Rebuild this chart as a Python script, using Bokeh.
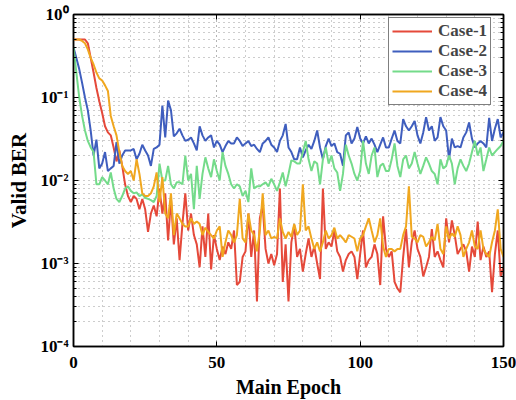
from bokeh.plotting import figure
from bokeh.models import (Range1d, FixedTicker, CustomJSTickFormatter, LogAxis, LinearAxis,
                          Legend, LegendItem)
from bokeh.embed import file_html
from bokeh.resources import INLINE

epochs = list(range(0, 151))

case1 = [0.5, 0.5, 0.5, 0.5, 0.5, 0.45, 0.3, 0.2, 0.13, 0.09,
         0.065, 0.045, 0.038, 0.035, 0.025, 0.017, 0.023, 0.015, 0.009, 0.0065,
         0.0055, 0.0065, 0.006, 0.0045, 0.006, 0.0045, 0.0024, 0.004, 0.005, 0.0037,
         0.008, 0.004, 0.007, 0.0019, 0.006, 0.0017, 0.0035, 0.0011, 0.003, 0.007,
         0.0025, 0.004, 0.0022, 0.0017, 0.0009, 0.0028, 0.0012, 0.004, 0.00085, 0.0022,
         0.0015, 0.0011, 0.0016, 0.0013, 0.0018, 0.0015, 0.0025, 0.00055, 0.0006, 0.0012,
         0.0014, 0.004, 0.0012, 0.0025, 0.00035, 0.0035, 0.005, 0.0015, 0.001, 0.0013,
         0.00095, 0.0013, 0.008, 0.0006, 0.0017, 0.00035, 0.0018, 0.0029, 0.0012, 0.0015,
         0.0008, 0.0013, 0.002, 0.0012, 0.0016, 0.001, 0.00065, 0.008, 0.0015, 0.0018,
         0.0016, 0.0025, 0.0014, 0.0012, 0.0008, 0.0011, 0.0013, 0.0014, 0.0012, 0.00065,
         0.0013, 0.0025, 0.0009, 0.0011, 0.0012, 0.0017, 0.0013, 0.00055, 0.0037, 0.0015,
         0.0012, 0.0014, 0.0006, 0.0005, 0.00045, 0.0012, 0.0026, 0.0009, 0.0018, 0.0025,
         0.0015, 0.0012, 0.0007, 0.0009, 0.0012, 0.0026, 0.0012, 0.0014, 0.0011, 0.0009,
         0.0035, 0.0018, 0.0033, 0.0022, 0.0013, 0.0015, 0.0017, 0.0014, 0.0008, 0.0016,
         0.0012, 0.0032, 0.0011, 0.0016, 0.0012, 0.0014, 0.00045, 0.0013, 0.0025, 0.0007, 0.0009]

case2 = [0.4, 0.3, 0.22, 0.15, 0.1, 0.07, 0.04, 0.02, 0.031, 0.014,
         0.016, 0.022, 0.013, 0.014, 0.015, 0.029, 0.016, 0.02, 0.023, 0.023,
         0.023, 0.024, 0.018, 0.021, 0.027, 0.023, 0.02, 0.015, 0.024, 0.025,
         0.027, 0.08, 0.033, 0.092, 0.07, 0.034, 0.037, 0.042, 0.035, 0.03,
         0.031, 0.033, 0.028, 0.023, 0.045, 0.035, 0.03, 0.033, 0.035, 0.025,
         0.03, 0.027, 0.022, 0.026, 0.03, 0.028, 0.028, 0.033, 0.03, 0.026,
         0.028, 0.03, 0.026, 0.027, 0.024, 0.022, 0.028, 0.03, 0.033, 0.027,
         0.025, 0.022, 0.03, 0.035, 0.048, 0.025, 0.022, 0.018, 0.018, 0.025,
         0.019, 0.023, 0.027, 0.024, 0.03, 0.04, 0.025, 0.018, 0.026, 0.032,
         0.026, 0.028, 0.022, 0.021, 0.015, 0.035, 0.038, 0.028, 0.032, 0.044,
         0.032, 0.028, 0.034, 0.028, 0.032, 0.027, 0.022, 0.027, 0.033, 0.025,
         0.025, 0.032, 0.04, 0.03, 0.028, 0.055, 0.045, 0.04, 0.045, 0.052,
         0.035, 0.028, 0.038, 0.058, 0.04, 0.045, 0.03, 0.033, 0.058, 0.045,
         0.04, 0.018, 0.032, 0.025, 0.026, 0.025, 0.033, 0.038, 0.05, 0.032,
         0.025, 0.028, 0.03, 0.028, 0.025, 0.057, 0.03, 0.042, 0.055, 0.033, 0.038]

case3 = [0.4, 0.2, 0.1, 0.06, 0.04, 0.03, 0.025, 0.022, 0.009, 0.009,
         0.011, 0.01, 0.009, 0.0125, 0.008, 0.006, 0.0055, 0.0065, 0.008, 0.0085,
         0.0075, 0.007, 0.0072, 0.0065, 0.0068, 0.0062, 0.006, 0.0058, 0.0055, 0.0065,
         0.016, 0.01, 0.01, 0.015, 0.009, 0.008, 0.0095, 0.0095, 0.009, 0.02,
         0.01, 0.012, 0.0045, 0.015, 0.006, 0.012, 0.019, 0.014, 0.011, 0.018,
         0.013, 0.01, 0.022, 0.015, 0.012, 0.009, 0.008, 0.009, 0.0085, 0.0065,
         0.0075, 0.0055, 0.014, 0.008, 0.0085, 0.0085, 0.009, 0.0095, 0.0085, 0.0105,
         0.009, 0.0075, 0.0095, 0.0125, 0.0085, 0.012, 0.0175, 0.017, 0.016, 0.016,
         0.022, 0.03, 0.018, 0.013, 0.017, 0.016, 0.009, 0.018, 0.025, 0.016,
         0.02, 0.014, 0.0125, 0.0075, 0.012, 0.027, 0.02, 0.016, 0.012, 0.01,
         0.013, 0.03, 0.016, 0.012, 0.02, 0.025, 0.011, 0.015, 0.016, 0.013,
         0.013, 0.018, 0.028, 0.015, 0.011, 0.018, 0.02, 0.014, 0.016, 0.022,
         0.016, 0.012, 0.015, 0.019, 0.016, 0.013, 0.012, 0.009, 0.018, 0.014,
         0.015, 0.02, 0.016, 0.009, 0.014, 0.018, 0.015, 0.013, 0.016, 0.022,
         0.03, 0.02, 0.025, 0.013, 0.018, 0.025, 0.02, 0.022, 0.024, 0.026, 0.03]

case4 = [0.5, 0.5, 0.5, 0.48, 0.45, 0.38, 0.3, 0.25, 0.2, 0.17,
         0.16, 0.14, 0.12, 0.06, 0.045, 0.035, 0.022, 0.015, 0.013, 0.012,
         0.013, 0.01, 0.018, 0.012, 0.007, 0.0065, 0.0065, 0.007, 0.0085, 0.0125,
         0.0055, 0.011, 0.004, 0.0035, 0.007, 0.0022, 0.004, 0.0035, 0.003, 0.0028,
         0.0028, 0.0035, 0.003, 0.0032, 0.003, 0.0022, 0.0027, 0.0024, 0.0022, 0.002,
         0.0025, 0.0028, 0.0012, 0.0018, 0.0025, 0.0022, 0.0018, 0.0022, 0.006, 0.002,
         0.0018, 0.004, 0.0025, 0.0022, 0.0014, 0.0025, 0.007, 0.0022, 0.0025, 0.002,
         0.0021, 0.002, 0.0035, 0.0024, 0.002, 0.0024, 0.0021, 0.003, 0.0022, 0.0025,
         0.009, 0.0025, 0.0028, 0.002, 0.0015, 0.0018, 0.0014, 0.0018, 0.0025, 0.002,
         0.0022, 0.0027, 0.002, 0.0022, 0.002, 0.0018, 0.0022, 0.0021, 0.002, 0.0014,
         0.002, 0.0022, 0.0028, 0.0035, 0.0025, 0.0018, 0.0022, 0.0035, 0.0016, 0.0012,
         0.0015, 0.0015, 0.0014, 0.0015, 0.0015, 0.0022, 0.0028, 0.0085, 0.0021, 0.002,
         0.0018, 0.0022, 0.0021, 0.0016, 0.0018, 0.0021, 0.0019, 0.003, 0.0015, 0.0013,
         0.0028, 0.002, 0.0023, 0.0021, 0.0028, 0.0022, 0.0012, 0.0015, 0.0018, 0.0025,
         0.0016, 0.0015, 0.0025, 0.0015, 0.0013, 0.0012, 0.0018, 0.0025, 0.0045, 0.0015, 0.0012]

series_names = ["Case-1", "Case-2", "Case-3", "Case-4"]
series_colors = ["#E5493A", "#3F5EBE", "#74DB8A", "#F0A71F"]
x_ticks = [0, 50, 100, 150]
y_ticks = [1e-4, 1e-3, 1e-2, 1e-1, 1e0]

FONT = "Liberation Serif"

p = figure(width=516, height=400, x_range=Range1d(0, 150), y_range=Range1d(1e-4, 1),
           y_axis_type="log", output_backend="svg", toolbar_location=None,
           min_border_left=73, min_border_right=13, min_border_top=14, min_border_bottom=54)

p.background_fill_color = "white"
p.outline_line_color = "black"
p.outline_line_width = 1.5

renderers = []
for name, ys, col in zip(series_names, [case1, case2, case3, case4], series_colors):
    r = p.line(epochs, ys, line_color=col, line_width=2)
    renderers.append((name, r))

minor_y = [m * d for d in y_ticks[:-1] for m in range(2, 10)]
x_minor = list(range(0, 151, 10))

sup = CustomJSTickFormatter(code="""
const m = {'-':'\u207B','0':'\u2070','1':'\u00B9','2':'\u00B2','3':'\u00B3','4':'\u2074','5':'\u2075','6':'\u2076','7':'\u2077','8':'\u2078','9':'\u2079'};
const e = String(Math.round(Math.log10(tick)));
let s = '';
for (const c of e) { s += m[c]; }
return '10' + s;
""")

yax = p.yaxis[0]
yax.ticker = FixedTicker(ticks=y_ticks, minor_ticks=minor_y)
yax.formatter = sup
xax = p.xaxis[0]
xax.ticker = FixedTicker(ticks=x_ticks, minor_ticks=x_minor)

for ax in [xax, yax]:
    ax.major_tick_in = 5
    ax.major_tick_out = 0
    ax.minor_tick_in = 3
    ax.minor_tick_out = 0
    ax.axis_line_width = 1.5
    ax.axis_line_color = "black"
    ax.major_tick_line_color = "black"
    ax.minor_tick_line_color = "black"
    ax.major_label_text_font = FONT
    ax.major_label_text_font_style = "bold"
    ax.major_label_text_font_size = "17px"
    ax.major_label_text_color = "black"
    ax.axis_label_text_font = FONT
    ax.axis_label_text_font_style = "bold"
    ax.axis_label_text_font_size = "20px"
    ax.axis_label_text_color = "black"

xax.minor_tick_line_color = None
xax.axis_label = "Main Epoch"
xax.major_label_standoff = 10
xax.axis_label_standoff = 5
yax.axis_label = "Valid BER"
yax.axis_label_text_font_size = "21px"
yax.major_label_standoff = 5
yax.axis_label_standoff = 6

# mirrored axes (box with ticks), labels not painted
rax = LogAxis(ticker=FixedTicker(ticks=y_ticks, minor_ticks=minor_y),
              major_label_text_color=None, major_label_text_font_size="2px",
              major_tick_in=5, major_tick_out=0,
              minor_tick_in=3, minor_tick_out=0, axis_line_width=1.5, major_label_standoff=0)
tax = LinearAxis(ticker=FixedTicker(ticks=x_ticks), major_label_text_color=None,
                 major_label_text_font_size="2px",
                 major_tick_in=5, major_tick_out=0, minor_tick_line_color=None,
                 axis_line_width=1.5, major_label_standoff=0)
p.add_layout(rax, "right")
p.add_layout(tax, "above")

for g in [p.xgrid[0], p.ygrid[0]]:
    g.grid_line_color = "#9a9a9a"
    g.grid_line_dash = "1 4"
    g.grid_line_width = 1
    g.minor_grid_line_color = "#9a9a9a"
    g.minor_grid_line_dash = "1 4"
    g.minor_grid_line_width = 1
p.xgrid[0].ticker = FixedTicker(ticks=x_ticks, minor_ticks=x_minor)
p.ygrid[0].ticker = FixedTicker(ticks=y_ticks, minor_ticks=minor_y)

legend = Legend(items=[LegendItem(label=n, renderers=[r]) for n, r in renderers],
                location=(315, 241), margin=0, padding=3, spacing=0,
                glyph_width=40, glyph_height=20, label_height=20, label_standoff=6,
                label_text_font=FONT, label_text_font_style="bold",
                label_text_font_size="17px", border_line_color="black",
                border_line_width=1.5, background_fill_alpha=1)
p.add_layout(legend, "center")

open("out.html", "w").write(file_html(p, INLINE))
